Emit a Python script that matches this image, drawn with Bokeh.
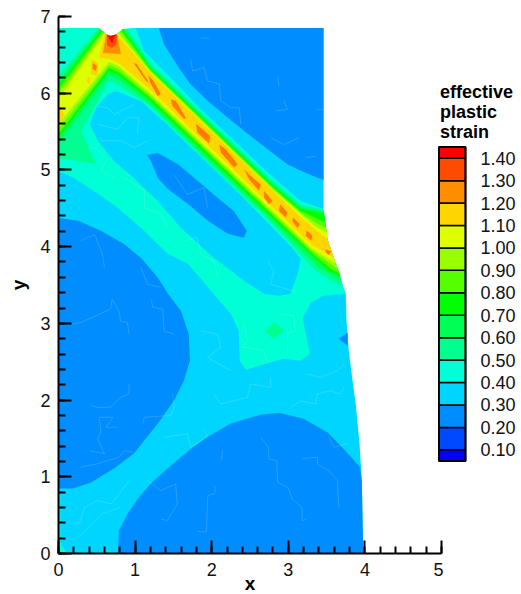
from bokeh.embed import file_html
from bokeh.resources import INLINE
from bokeh.plotting import figure
from bokeh.models import Range1d
from bokeh.core.properties import value

FONT = "Liberation Sans"

# legend
level_edges = [0.05, 0.10, 0.20, 0.30, 0.40, 0.50, 0.60, 0.70, 0.80, 0.90, 1.00, 1.10, 1.20, 1.30, 1.40, 1.45]
level_colors = ["#0000ff", "#0049ff", "#008dff", "#00d5ff", "#00ffd5", "#00ff91", "#00ff55", "#00ff00",
                "#55ff00", "#99ff00", "#ddff00", "#ffd500", "#ff8d00", "#ff4a00", "#ff0000"]
level_labels = ["0.10", "0.20", "0.30", "0.40", "0.50", "0.60", "0.70", "0.80", "0.90", "1.00", "1.10", "1.20", "1.30", "1.40"]
level_ticks = [0.1, 0.2, 0.3, 0.4, 0.5, 0.6, 0.7, 0.8, 0.9, 1.0, 1.1, 1.2, 1.3, 1.4]
legend_title = ["effective", "plastic", "strain"]

# specimen outline
domain_x = [0, .528, .62, .684, .763, .84, .99, 3.46, 3.46, 3.51, 3.59, 3.64, 3.71, 3.75, 3.76, 3.79, 3.83, 3.88, 3.93, 3.96, 3.97, 3.98, 0]
domain_y = [6.85, 6.85, 6.77, 6.745, 6.77, 6.835, 6.85, 6.85, 4.466, 4.10, 3.86, 3.72, 3.49, 3.385, 3.03, 2.64, 2.32, 1.95, 1.43, .95, .39, 0, 0]

# strain 0.2-0.3 regions
blue_top_x = [1.31, 1.375, 1.556, 1.728, 1.95, 2.21, 2.47, 2.73, 2.99, 3.25, 3.46, 3.46]
blue_top_y = [6.85, 6.64, 6.35, 6.11, 5.90, 5.68, 5.47, 5.27, 5.07, 4.95, 4.87, 6.85]
blue_left_x = [0, .254, .554, .854, 1.076, 1.297, 1.428, 1.597, 1.70, 1.715, 1.636, 1.506, 1.297, .984, .724, .424, .19, 0]
blue_left_y = [4.375, 4.336, 4.206, 4.036, 3.854, 3.594, 3.385, 3.164, 2.865, 2.513, 2.253, 1.992, 1.693, 1.302, 1.107, .924, .846, .846]
blue_bottom_x = [.776, .789, .904, 1.036, 1.206, 1.467, 1.728, 1.95, 2.249, 2.64, 2.875, 3.20, 3.513, 3.72, 3.93, 3.96, 3.97, 3.98]
blue_bottom_y = [0, .30, .52, .716, .911, 1.146, 1.367, 1.523, 1.693, 1.81, 1.836, 1.758, 1.576, 1.367, 1.133, .95, .39, 0]
blue_mid_x = [1.154, 1.297, 1.556, 1.819, 2.08, 2.288, 2.458, 2.42, 2.21, 1.95, 1.69, 1.428, 1.297, 1.206]
blue_mid_y = [5.195, 5.221, 5.078, 4.857, 4.635, 4.466, 4.206, 4.115, 4.167, 4.336, 4.557, 4.753, 4.896, 5.117]
blue_edge_x = [3.657, 3.775, 3.775]
blue_edge_y = [2.80, 2.878, 2.708]

# strain 0.4-0.5 regions
teal_x = [0, .528, .62, .684, .763, .84, .99, 1.01, 1.115, 1.506, 1.858, 2.288, 2.73, 3.162, 3.422, 3.46, 3.46, 3.51, 3.59, 3.64, 3.71, 3.75,
          3.46, 3.292, 3.188, 3.28, 3.162, 2.94, 2.445, 2.366, 2.353, 2.249, 2.08, 1.858, 1.69, 1.428, 1.076, .776, .515, .2, 0]
teal_y = [6.85, 6.85, 6.77, 6.745, 6.77, 6.835, 6.85, 6.85, 6.549, 6.16, 5.79, 5.39, 4.97, 4.596, 4.505, 4.49, 4.466, 4.10, 3.86, 3.72, 3.49, 3.385,
          3.36, 3.268, 3.073, 2.604, 2.513, 2.539, 2.396, 2.513, 2.904, 3.125, 3.32, 3.581, 3.776, 3.906, 4.245, 4.505, 4.688, 4.896, 4.987]
teal_corner_x = [0, .025, .025, .107, 0]
teal_corner_y = [.82, .75, .14, 0, 0]
# strain 0.3-0.4 pocket between the shear band and the lower teal band
cyan_x = [.749, 1.076, 1.428, 1.69, 2.028, 2.379, 2.73, 3.03, 3.162, 3.123, 3.03, 2.875, 2.68, 2.42, 2.288, 2.028, 1.597, 1.293, .984, .724, .515, .41, .489, .645]
cyan_y = [6.029, 5.90, 5.584, 5.333, 5.008, 4.671, 4.314, 4.006, 3.841, 3.646, 3.385, 3.359, 3.385, 3.555, 3.659, 3.854, 4.245, 4.596, 4.896, 5.117, 5.378, 5.599, 5.807, 5.99]

spot_x = [2.69, 2.82, 2.95, 2.80]
spot_y = [2.904, 3.02, 2.904, 2.80]

# shear band level regions
b05_x = [0, .515, .62, .684, .763, .84, .893, 1.2, 2.8, 3.162, 3.357, 3.46, 3.46, 3.51, 3.59, 3.64, 3.71, 3.553, 3.357, 2.8, 1.2, .789, .658, .293, .489, 0]
b05_y = [6.224, 6.85, 6.77, 6.745, 6.77, 6.835, 6.84, 6.381, 4.845, 4.544, 4.505, 4.479, 4.466, 4.10, 3.86, 3.72, 3.49, 3.555, 3.685, 4.286, 5.822, 6.1, 6.159, 5.508, 5.078, 5.156]
b06_x = [0, .54, .62, .684, .763, .84, .87, 1.2, 2.8, 3.162, 3.357, 3.463, 3.51, 3.59, 3.64, 3.696, 3.59, 3.40, 2.8, 1.2, .789, .658, 0]
b06_y = [6.159, 6.84, 6.77, 6.745, 6.77, 6.835, 6.835, 6.355, 4.819, 4.518, 4.479, 4.453, 4.10, 3.86, 3.72, 3.555, 3.62, 3.72, 4.325, 5.861, 6.18, 6.237, 5.352]
b07_x = [0, .554, .62, .684, .763, .84, 1.2, 2.8, 3.162, 3.357, 3.47, 3.51, 3.59, 3.64, 3.683, 3.527, 2.8, 1.2, .789, .658, 0]
b07_y = [6.107, 6.825, 6.77, 6.745, 6.77, 6.835, 6.329, 4.793, 4.492, 4.453, 4.427, 4.10, 3.86, 3.72, 3.607, 3.685, 4.364, 5.90, 6.23, 6.289, 5.417]
b08_x = [0, .567, .62, .684, .763, .82, 1.2, 2.8, 3.162, 3.357, 3.48, 3.51, 3.59, 3.64, 3.67, 3.553, 3.3, 2.8, 1.2, .789, .658, 0]
b08_y = [6.055, 6.805, 6.77, 6.745, 6.77, 6.82, 6.31, 4.774, 4.466, 4.375, 4.31, 4.10, 3.86, 3.72, 3.646, 3.711, 3.923, 4.403, 5.939, 6.27, 6.328, 5.469]
b09_x = [0, .58, .62, .684, .763, .80, 1.2, 2.8, 3.162, 3.357, 3.50, 3.51, 3.59, 3.645, 3.3, 2.8, 1.2, .789, .658, 0]
b09_y = [6.003, 6.79, 6.77, 6.745, 6.77, 6.80, 6.29, 4.754, 4.44, 4.31, 4.232, 4.10, 3.86, 3.71, 3.949, 4.429, 5.965, 6.31, 6.367, 5.534]
b10_x = [0, .593, .62, .684, .763, .78, 1.2, 2.8, 3.162, 3.357, 3.505, 3.51, 3.59, 3.62, 3.3, 2.8, 1.2, .789, .658, 0]
b10_y = [5.924, 6.78, 6.77, 6.745, 6.77, 6.78, 6.277, 4.741, 4.427, 4.258, 4.18, 4.10, 3.86, 3.776, 3.975, 4.455, 5.991, 6.35, 6.406, 5.599]
b11_x = [.60, .62, .684, .763, 1.2, 2.8, 3.162, 3.357, 3.51, 3.59, 3.3, 2.8, 1.2, .789, .658, .528]
b11_y = [6.775, 6.77, 6.745, 6.77, 6.264, 4.728, 4.388, 4.219, 4.10, 3.86, 4.027, 4.507, 6.043, 6.39, 6.445, 6.458]
b11_left1_x = [.432, .519, .511, .424]
b11_left1_y = [6.441, 6.398, 6.224, 6.246]
b11_left2_x = [.389, .424, .402, .367]
b11_left2_y = [6.224, 6.159, 6.115, 6.159]
b11_edge_x = [0, .08, 0]
b11_edge_y = [5.84, 5.72, 5.58]
b12_x = [.62, .684, .763, .815, .58]
b12_y = [6.77, 6.745, 6.77, 6.51, 6.523]
b13_x = [.632, .684, .763, .76, .698, .632]
b13_y = [6.76, 6.745, 6.77, 6.64, 6.588, 6.627]
b14_x = [.635, .684, .745, .70]
b14_y = [6.755, 6.745, 6.765, 6.65]

# 1.2-1.3 streaks inside the band
streaks_x = [[.445, .502, .489, .445], [.98, 1.023, 1.184, 1.141], [1.171, 1.241, 1.336, 1.293, 1.197], [1.467, 1.532, 1.662, 1.641, 1.488],
             [1.793, 1.88, 1.98, 1.966, 1.814], [2.097, 2.184, 2.336, 2.292, 2.119], [2.423, 2.531, 2.64, 2.618, 2.488],
             [2.684, 2.792, 2.749, 2.684], [2.892, 2.988, 2.966, 2.879], [3.066, 3.149, 3.118, 3.053], [3.24, 3.314, 3.301, 3.227],
             [3.487, 3.565, 3.531, 3.487]]
streaks_y = [[6.398, 6.354, 6.289, 6.311], [6.398, 6.376, 6.137, 6.159], [6.237, 6.159, 5.985, 5.964, 6.137], [5.92, 5.898, 5.681, 5.66, 5.833],
             [5.603, 5.53, 5.443, 5.343, 5.486], [5.334, 5.269, 5.074, 5.03, 5.226], [5.009, 4.9, 4.813, 4.727, 4.878],
             [4.727, 4.596, 4.553, 4.64], [4.553, 4.444, 4.379, 4.466], [4.379, 4.293, 4.24, 4.336], [4.214, 4.141, 4.076, 4.141],
             [3.967, 3.937, 3.893, 3.924]]

# faint mesh edges that show through the filled contours
mesh_x = [[1.81, 1.93, 1.95, 2.04, 2.045], [2.64, 2.74, 2.75, 2.85, 2.86, 3.0, 3.05, 3.18, 3.18, 3.24], [2.14, 2.13],
          [3.53, 3.6, 3.77], [3.18, 3.38, 3.38, 3.53, 3.64, 3.66], [1.335, 1.42, 1.55, 1.53, 1.335, 1.16],
          [.185, .29, .68, .7, .79, .81, .9, .92], [.42, .51, .68, .81, .92, .92], [.40, .6, .51, .555, .53, .71, .62, .77],
          [.29, .51, .79, .86, .97], [1.51, 1.38, 1.36, 1.23, 1.21], [1.10, 1.12, 1.47, 1.51, 1.49],
          [.21, .27, .34, .51, .685, .79, .92], [.27, .575, .815], [1.38, 1.68, 1.725, 1.945, 1.90],
          [2.03, 2.12, 2.465, 2.51, 2.77, 2.77], [3.03, 3.16, 3.36, 3.38, 3.55, 3.68, 3.73], [3.25, 3.42, 3.64, 3.73],
          [1.86, 2.075, 2.12, 1.945, 2.25], [2.42, 2.465, 2.40, 2.68, 2.72], [2.9, 3.07, 3.095, 2.99, 2.99],
          [1.727, 1.75, 1.90, 1.945, 2.10, 2.12, 2.25, 2.36, 2.38], [1.86, 1.97], [2.86, 2.88], [2.84, 2.99, 2.94],
          [2.77, 2.945, 3.14], [3.23, 3.36], [3.36, 3.46], [.51, .64, .73, .99], [.51, .77, .90, 1.05, 1.03],
          [.555, .815, .99, 1.16], [1.51, 1.68, 1.90, 1.945], [.12, .29, .51, .64, .555, .73], [.86, 1.12, 1.12, 1.34, 1.42],
          [1.64, 1.81, 1.86, 2.03, 2.08], [.29, .47, .575, .6], [1.075, 1.16, 1.335], [2.73, 2.81, 2.77, 3.07]]
mesh_y = [[.29, .28, .755, .78, .885], [1.515, 1.385, 1.23, 1.21, .93, .855, .71, .60, .43, .45], [1.36, 1.21],
          [1.515, 1.385, 1.43], [1.235, 1.255, 1.165, 1.08, .95, .60], [.45, .43, .645, .905, .82, .95],
          [2.99, 3.01, 3.185, 3.315, 3.16, 3.03, 3.01, 2.855], [1.93, 1.905, 1.905, 2.035, 2.08, 2.21], [1.34, 1.30, 1.49, 1.60, 1.775, 1.775, 1.645, 1.645],
          [1.125, 1.17, 1.255, 1.34, 1.32], [2.86, 2.90, 3.185, 3.21, 3.315], [1.69, 1.775, 1.80, 1.905, 2.08],
          [.386, .386, .60, .69, .647, .777, .95], [.213, .517, .603], [1.515, 1.56, 1.385, 1.536, 1.60],
          [2.08, 1.95, 2.035, 2.21, 2.165, 2.296], [1.905, 1.99, 1.95, 2.08, 2.12, 2.08, 2.166], [2.34, 2.296, 2.38, 2.47],
          [2.90, 2.86, 2.69, 2.556, 2.383], [2.99, 2.775, 2.69, 2.65, 2.5], [3.12, 3.10, 2.90, 2.88, 2.58],
          [6.44, 6.29, 6.335, 6.16, 6.12, 5.90, 5.81, 5.81, 5.595], [6.72, 6.72], [6.22, 6.09], [5.77, 5.79, 5.90],
          [5.42, 5.33, 5.42], [5.16, 5.18], [5.79, 5.79], [5.83, 5.81, 5.725, 5.855], [5.595, 5.53, 5.68, 5.68, 5.46],
          [5.38, 5.38, 5.29, 5.38], [4.94, 4.68, 4.77, 4.51], [5.29, 5.33, 5.27, 5.14, 4.99, 4.90], [4.90, 4.73, 4.51, 4.42, 4.25],
          [4.075, 4.12, 3.90, 3.815, 3.60], [4.075, 4.16, 3.90, 3.73], [3.73, 3.51, 3.47], [3.815, 3.685, 3.51, 3.42]]

x_ticks = [0, 1, 2, 3, 4, 5]
y_ticks = [0, 1, 2, 3, 4, 5, 6, 7]

p = figure(width=443, height=600, output_backend="svg", toolbar_location=None,
           x_range=Range1d(0, 5), y_range=Range1d(0, 7),
           min_border_left=58, min_border_right=2, min_border_top=16, min_border_bottom=47,
           background_fill_color="white", outline_line_color=None)
p.styles = {"position": "absolute", "left": "0px", "top": "0px"}
p.grid.visible = False


def fill(xs, ys, color):
    p.patch(xs, ys, fill_color=color, line_color=None)


fill(domain_x, domain_y, level_colors[3])
fill(teal_x, teal_y, level_colors[4])
fill(teal_corner_x, teal_corner_y, level_colors[4])
fill(cyan_x, cyan_y, level_colors[3])
for bx, by in [(blue_top_x, blue_top_y), (blue_left_x, blue_left_y), (blue_bottom_x, blue_bottom_y),
               (blue_mid_x, blue_mid_y), (blue_edge_x, blue_edge_y)]:
    fill(bx, by, level_colors[2])
p.multi_line(mesh_x, mesh_y, line_color="white", line_alpha=0.16, line_width=1)
fill(spot_x, spot_y, level_colors[5])
fill(b05_x, b05_y, level_colors[5])
fill(b06_x, b06_y, level_colors[6])
fill(b07_x, b07_y, level_colors[7])
fill(b08_x, b08_y, level_colors[8])
fill(b09_x, b09_y, level_colors[9])
fill(b10_x, b10_y, level_colors[10])
fill(b11_x, b11_y, level_colors[11])
fill(b11_left1_x, b11_left1_y, level_colors[11])
fill(b11_left2_x, b11_left2_y, level_colors[11])
fill(b11_edge_x, b11_edge_y, level_colors[11])
p.patches(streaks_x, streaks_y, fill_color="#ff7c00", line_color=None)
fill(b12_x, b12_y, level_colors[12])
fill(b13_x, b13_y, level_colors[13])
fill(b14_x, b14_y, level_colors[14])

for ax, name in [(p.xaxis[0], "x"), (p.yaxis[0], "y")]:
    ax.ticker.num_minor_ticks = 5
    ax.axis_line_width = 2
    ax.axis_line_color = "black"
    ax.major_tick_line_width = 2
    ax.major_tick_line_color = "black"
    ax.minor_tick_line_width = 2
    ax.minor_tick_line_color = "black"
    ax.major_tick_out = 0
    ax.minor_tick_out = 0
    ax.major_tick_in = 13
    ax.minor_tick_in = 7
    ax.major_label_text_font = FONT
    ax.major_label_text_font_size = "18px"
    ax.major_label_text_color = "#111111"
    ax.axis_label = name
    ax.axis_label_text_font = FONT
    ax.axis_label_text_font_size = "19px"
    ax.axis_label_text_font_style = "bold"
    ax.axis_label_text_color = "black"
p.xaxis[0].ticker.desired_num_ticks = len(x_ticks)
p.yaxis[0].ticker.desired_num_ticks = len(y_ticks)
p.xaxis[0].major_label_standoff = 9
p.yaxis[0].major_label_standoff = 8
p.xaxis[0].axis_label_standoff = -6
p.yaxis[0].axis_label_standoff = 8

# legend panel, laid over the right end of the plot
legend = figure(width=85, height=594, output_backend="svg", toolbar_location=None,
                x_axis_location=None, y_axis_location=None,
                x_range=Range1d(0, 85), y_range=Range1d(-0.545, 2.103),
                min_border=0, background_fill_color=None, border_fill_color=None, outline_line_color=None)
legend.styles = {"position": "absolute", "left": "436px", "top": "0px"}
legend.grid.visible = False
LEG_L, LEG_R, LEG_T = 2.5, 29, 44
legend.quad(left=[LEG_L] * 15, right=[LEG_R] * 15, bottom=level_edges[:-1], top=level_edges[1:],
            fill_color=level_colors, line_color="black", line_width=1.5)
legend.quad(left=[LEG_L], right=[LEG_R], bottom=[level_edges[0]], top=[level_edges[-1]],
            fill_color=None, line_color="black", line_width=2)
legend.text(x=[LEG_T] * 14, y=level_ticks, text=level_labels, text_font=value(FONT), text_font_size="18px",
            text_baseline="middle", text_color="#111111")
legend.text(x=[3.5] * 3, y=[1.693, 1.604, 1.515], text=legend_title, text_font=value(FONT), text_font_size="18px",
            text_font_style="bold", text_baseline="middle", text_color="black")

html = file_html([p, legend], INLINE)
html = html.replace("<head>", "<head><style>html,body{overflow:hidden}</style>", 1)
open("out.html", "w").write(html)
